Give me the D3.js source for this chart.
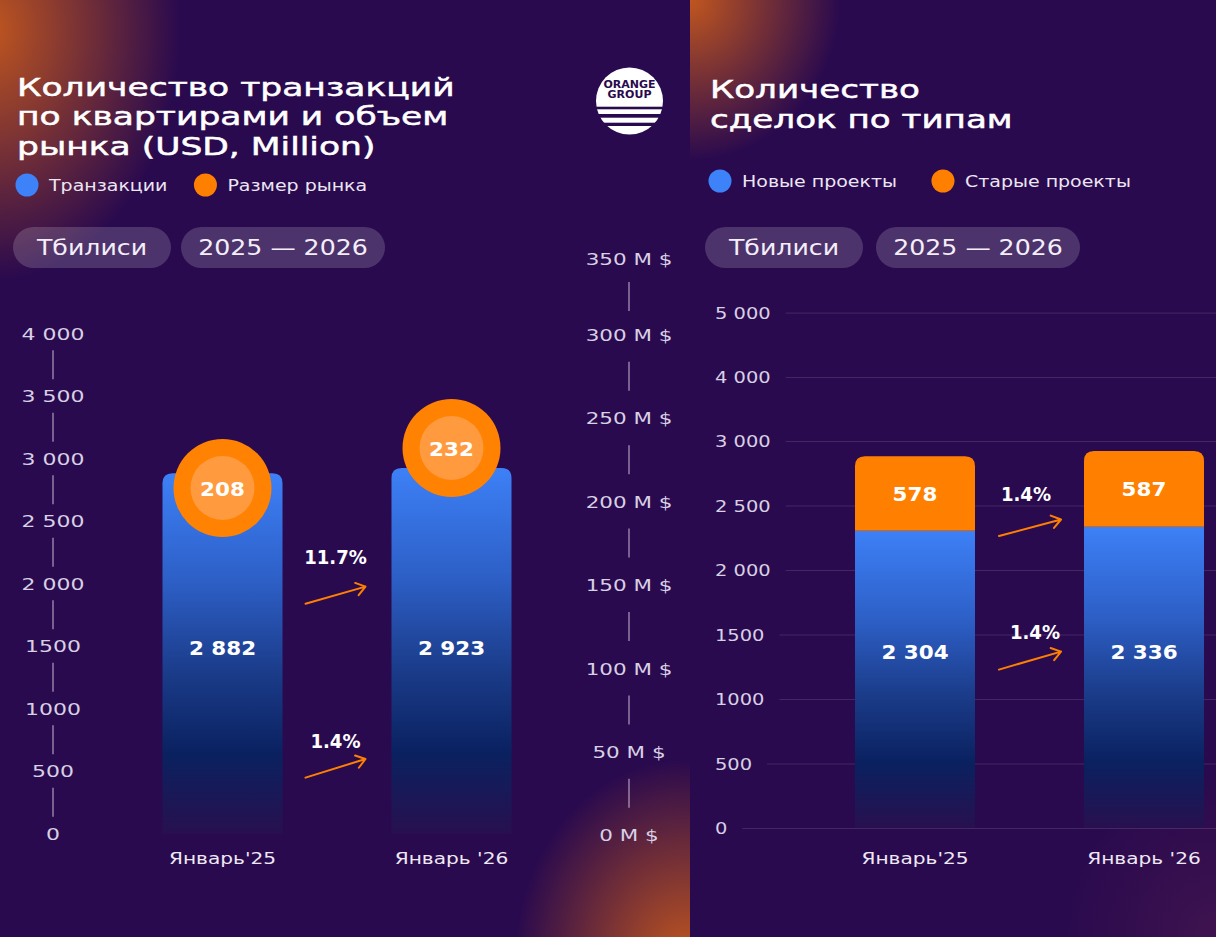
<!DOCTYPE html>
<html><head><meta charset="utf-8">
<script src="https://cdn.jsdelivr.net/npm/d3@7"></script>
<style>html,body{margin:0;padding:0;background:#2a0a4e;} svg{display:block;}</style>
</head><body>
<svg id="c" width="1216" height="937"></svg>
<script>
// ---------- DATA ----------
const months = ["Январь'25", "Январь '26"];
// left chart: transactions & market size
const transactions = [2882, 2923];
const marketSize = [208, 232];
const txGrowth = "1.4%";
const marketGrowth = "11.7%";
const txTicks = [0, 500, 1000, 1500, 2000, 2500, 3000, 3500, 4000];
const txTickLabels = ["0", "500", "1000", "1500", "2 000", "2 500", "3 000", "3 500", "4 000"];
const marketTicks = [0, 50, 100, 150, 200, 250, 300, 350];
const marketTickLabels = ["0 M $", "50 M $", "100 M $", "150 M $", "200 M $", "250 M $", "300 M $", "350 M $"];
// right chart: deals by type
const newProjects = [2304, 2336];
const oldProjects = [578, 587];
const newGrowth = "1.4%";
const oldGrowth = "1.4%";
const dealTicks = [0, 500, 1000, 1500, 2000, 2500, 3000, 4000, 5000];
const dealTickLabels = ["0", "500", "1000", "1500", "2 000", "2 500", "3 000", "4 000", "5 000"];
// texts
const titleLeft = ["Количество транзакций", "по квартирами и объем", "рынка (USD, Million)"];
const titleRight = ["Количество", "сделок по типам"];
const legendLeft = ["Транзакции", "Размер рынка"];
const legendRight = ["Новые проекты", "Старые проекты"];
const pills = ["Тбилиси", "2025 — 2026"];

// ---------- SETUP ----------
const W = 1216, H = 937;
const FONT = "'DejaVu Sans', sans-serif";
const BG = "#2a0a4e";
const BLUE = "#3d82f8", ORANGE = "#ff8000";
const fmt = d3.formatLocale({decimal: ".", thousands: " ", grouping: [3], currency: ["", ""]}).format(",d");

const svg = d3.select("#c");
const defs = svg.append("defs");

function widen(sel, k) {
  sel.each(function () {
    const L = this.getComputedTextLength();
    d3.select(this).attr("textLength", L * k).attr("lengthAdjust", "spacingAndGlyphs");
  });
  return sel;
}
function label(g, x, cy, s, size, o = {}) {
  const t = g.append("text").attr("x", x).attr("y", cy + 0.36 * size)
    .attr("font-family", FONT).attr("font-size", size)
    .attr("font-weight", o.weight || "normal").attr("fill", o.fill || "#fff")
    .attr("text-anchor", o.anchor || "middle").text(s);
  widen(t, o.k || 1.2);
  return t;
}
function roundTop(x, y, w, h, r) {
  return `M${x},${y + h}V${y + r}Q${x},${y} ${x + r},${y}H${x + w - r}Q${x + w},${y} ${x + w},${y + r}V${y + h}Z`;
}
function arrow(g, x1, y1, x2, y2) {
  const a = Math.atan2(y2 - y1, x2 - x1), L = 11, sp = 0.62;
  const d = `M${x1},${y1}L${x2},${y2}M${x2 - L * Math.cos(a - sp)},${y2 - L * Math.sin(a - sp)}L${x2},${y2}L${x2 - L * Math.cos(a + sp)},${y2 - L * Math.sin(a + sp)}`;
  g.append("path").attr("d", d).attr("fill", "none").attr("stroke", ORANGE)
    .attr("stroke-width", 2).attr("stroke-linecap", "round").attr("stroke-linejoin", "round");
}

// ---------- BACKGROUND ----------
svg.append("rect").attr("width", W).attr("height", H).attr("fill", BG);
[["pL", 0, 690], ["pR", 690, 526]].forEach(([id, x, w]) =>
  defs.append("clipPath").attr("id", id).append("rect").attr("x", x).attr("y", 0).attr("width", w).attr("height", H));
function glowGrad(id, color, op) {
  const g = defs.append("radialGradient").attr("id", id);
  g.append("stop").attr("offset", "0%").attr("stop-color", color).attr("stop-opacity", op);
  g.append("stop").attr("offset", "40%").attr("stop-color", color).attr("stop-opacity", op * 0.6);
  g.append("stop").attr("offset", "100%").attr("stop-color", color).attr("stop-opacity", 0);
}
glowGrad("gOr", "#c85a1c", 0.95);
glowGrad("gMag", "#5e2050", 0.4);
[
  {clip: "pL", cx: -10, cy: 30, rx: 190, ry: 250, f: "gOr"},
  {clip: "pL", cx: 685, cy: 960, rx: 170, ry: 200, f: "gOr"},
  {clip: "pR", cx: 690, cy: 0, rx: 150, ry: 160, f: "gOr"},
  {clip: "pR", cx: 1216, cy: 937, rx: 150, ry: 160, f: "gMag"}
].forEach(o => svg.append("ellipse").attr("clip-path", `url(#${o.clip})`)
  .attr("cx", o.cx).attr("cy", o.cy).attr("rx", o.rx).attr("ry", o.ry).attr("fill", `url(#${o.f})`));

// gradient for blue bars
const gb = defs.append("linearGradient").attr("id", "barBlue").attr("x1", 0).attr("y1", 0).attr("x2", 0).attr("y2", 1);
[[0, "#3d80f7"], [0.3, "#2d5fc6"], [0.55, "#1b3c8a"], [0.78, "#0a2160"], [1, "#28104f"]]
  .forEach(([o, c]) => gb.append("stop").attr("offset", o).attr("stop-color", c));

// ---------- HEADERS ----------
const hdr = svg.append("g");
function title(lines, x, y0, dy, k) {
  const t = hdr.append("text").attr("font-family", FONT).attr("font-size", 25.2).attr("fill", "#fff")
    .attr("stroke", "#fff").attr("stroke-width", 0.5);
  lines.forEach((s, i) => {
    const ts = t.append("tspan").attr("x", x).attr("y", y0 + i * dy).text(s);
    widen(ts, k);
  });
}
title(titleLeft, 17, 95.5, 29.5, 1.37);
title(titleRight, 710, 98, 29.6, 1.355);

function legend(items, x0, gapX, cy) {
  let x = x0;
  items.forEach((s, i) => {
    hdr.append("circle").attr("cx", x + 11).attr("cy", cy).attr("r", 11.5).attr("fill", i ? ORANGE : BLUE);
    const t = label(hdr, x + 33, cy, s, 16.5, {anchor: "start", fill: "#ece6f3", k: 1.15});
    x = x + 33 + (+t.attr("textLength")) + gapX;
  });
}
legend(legendLeft, 16, 27, 185);
legend(legendRight, 709, 35, 181);

function pillRow(x0, cy, gap) {
  let x = x0;
  const widths = [158, 204];
  pills.forEach((s, i) => {
    hdr.append("rect").attr("x", x).attr("y", cy - 20.5).attr("width", widths[i]).attr("height", 41)
      .attr("rx", 20.5).attr("fill", "rgba(255,255,255,0.17)");
    label(hdr, x + widths[i] / 2, cy, s, 20.5, {fill: "#f3eef8", k: 1.23});
    x += widths[i] + gap;
  });
}
pillRow(13, 247.5, 10);
pillRow(705, 247.5, 13);

// logo
const logo = svg.append("g");
defs.append("clipPath").attr("id", "logoClip").append("circle").attr("cx", 629.5).attr("cy", 101).attr("r", 33.5);
const lg = logo.append("g").attr("clip-path", "url(#logoClip)");
[[60, 106.7], [109.3, 114], [117.7, 122.7], [126, 140]].forEach(([a, b]) =>
  lg.append("rect").attr("x", 590).attr("y", a).attr("width", 80).attr("height", b - a).attr("fill", "#fff"));
label(logo, 629.5, 84.5, "ORANGE", 10.5, {weight: "bold", fill: BG, k: 1.05});
label(logo, 629.5, 94.5, "GROUP", 10.5, {weight: "bold", fill: BG, k: 1.05});

// ---------- LEFT CHART ----------
const L = svg.append("g");
const xL = d3.scaleBand().domain(months).range([162.5, 511.5]).paddingInner(0.476).paddingOuter(0);
const yL = d3.scaleLinear().domain([0, 4000]).range([833.4, 333.4]);
const yM = d3.scaleLinear().domain([0, 300, 350]).range([835, 334.5, 258.5]);

function sepAxis(g, scale, ticks, labels, x, size, k) {
  const ax = g.append("g").attr("transform", `translate(${x},0)`)
    .call(d3.axisLeft(scale).tickValues(ticks).tickFormat((d, i) => labels[i]).tickSize(0).tickPadding(0));
  ax.select(".domain").remove();
  ax.attr("font-family", FONT).attr("font-size", size);
  ax.selectAll("text").attr("x", 0).attr("text-anchor", "middle").attr("fill", "#d8d0e4").attr("dy", "0.36em").call(widen, k);
  for (let i = 0; i < ticks.length - 1; i++) {
    const m = (scale(ticks[i]) + scale(ticks[i + 1])) / 2;
    ax.append("line").attr("x1", 0).attr("x2", 0).attr("y1", m - 14.5).attr("y2", m + 14.5)
      .attr("stroke", "rgba(230,220,240,0.6)").attr("stroke-width", 1.4);
  }
}
sepAxis(L, yL, txTicks, txTickLabels, 53, 16.5, 1.33);
sepAxis(L, yM, marketTicks, marketTickLabels, 629, 16.5, 1.3);

const bw = xL.bandwidth();
months.forEach((m, i) => {
  const x = xL(m), y = yL(transactions[i]);
  L.append("path").attr("d", roundTop(x, y, bw, yL(0) - y, 10)).attr("fill", "url(#barBlue)");
  label(L, x + bw / 2, 648, fmt(transactions[i]), 19.5, {weight: "bold", k: 1.1});
  const cy = yM(marketSize[i]);
  L.append("circle").attr("cx", x + bw / 2).attr("cy", cy).attr("r", 49).attr("fill", "#ff8203");
  L.append("circle").attr("cx", x + bw / 2).attr("cy", cy).attr("r", 32).attr("fill", "#ff9a3e");
  label(L, x + bw / 2, cy + 1, fmt(marketSize[i]), 19.5, {weight: "bold", k: 1.1});
  label(L, x + bw / 2, 858, m, 16.5, {fill: "#eee8f4", k: 1.22});
});
{
  const xa = xL(months[0]) + bw + 23, xb = xL(months[1]) - 26;
  [[marketGrowth, 557, 603.7, 586.6], [txGrowth, 741, 777.6, 759]].forEach(([s, ty, y1, y2]) => {
    label(L, (xa + xb) / 2, ty, s, 19, {weight: "bold", k: 0.95});
    arrow(L, xa, y1, xb, y2);
  });
}

// ---------- RIGHT CHART ----------
const R = svg.append("g");
const xR = d3.scaleBand().domain(months).range([855, 1204]).paddingInner(0.476).paddingOuter(0);
const yR = d3.scaleLinear().domain([0, 3000, 4000, 5000]).range([828, 441, 377, 312.6]);
{
  const ax = R.append("g").attr("transform", "translate(715,0)")
    .call(d3.axisRight(yR).tickValues(dealTicks).tickFormat((d, i) => dealTickLabels[i]).tickSize(0).tickPadding(0));
  ax.select(".domain").remove();
  ax.attr("font-family", FONT).attr("font-size", 15.8);
  ax.selectAll("text").attr("x", 0).attr("text-anchor", "start").attr("fill", "#d8d0e4").attr("dy", "0.36em").call(widen, 1.23);
  ax.selectAll(".tick").each(function () {
    const t = d3.select(this).select("text");
    const w = +t.attr("textLength");
    d3.select(this).append("line").attr("x1", w + 15).attr("x2", W - 715).attr("y1", 0).attr("y2", 0)
      .attr("stroke", "rgba(255,255,255,0.12)").attr("stroke-width", 1);
  });
}
const dealTable = months.map((m, i) => ({month: m, newP: newProjects[i], oldP: oldProjects[i]}));
const stack = d3.stack().keys(["newP", "oldP"])(dealTable);
const bwR = xR.bandwidth();
stack[0].forEach(d => {
  const x = xR(d.data.month), y = yR(d[1]);
  R.append("path").attr("d", `M${x},${yR(d[0])}V${y}H${x + bwR}V${yR(d[0])}Z`).attr("fill", "url(#barBlue)");
  label(R, x + bwR / 2, 652, fmt(d[1] - d[0]), 19.5, {weight: "bold", k: 1.1});
});
stack[1].forEach(d => {
  const x = xR(d.data.month), y = yR(d[1]), y0 = yR(d[0]);
  R.append("path").attr("d", roundTop(x, y, bwR, y0 - y, 10)).attr("fill", ORANGE);
  label(R, x + bwR / 2, (y + y0) / 2, fmt(d[1] - d[0]), 19.5, {weight: "bold", k: 1.1});
});
months.forEach(m => label(R, xR(m) + bwR / 2, 858.5, m, 16.5, {fill: "#eee8f4", k: 1.22}));
{
  const xa = xR(months[0]) + bwR + 24, xb = xR(months[1]) - 23;
  [[oldGrowth, -4, 494.6, 536, 519.5], [newGrowth, 5, 632.5, 669.6, 651.6]].forEach(([s, dx, ty, y1, y2]) => {
    label(R, (xa + xb) / 2 + dx, ty, s, 19, {weight: "bold", k: 0.95});
    arrow(R, xa, y1, xb, y2);
  });
}
</script>
</body></html>
